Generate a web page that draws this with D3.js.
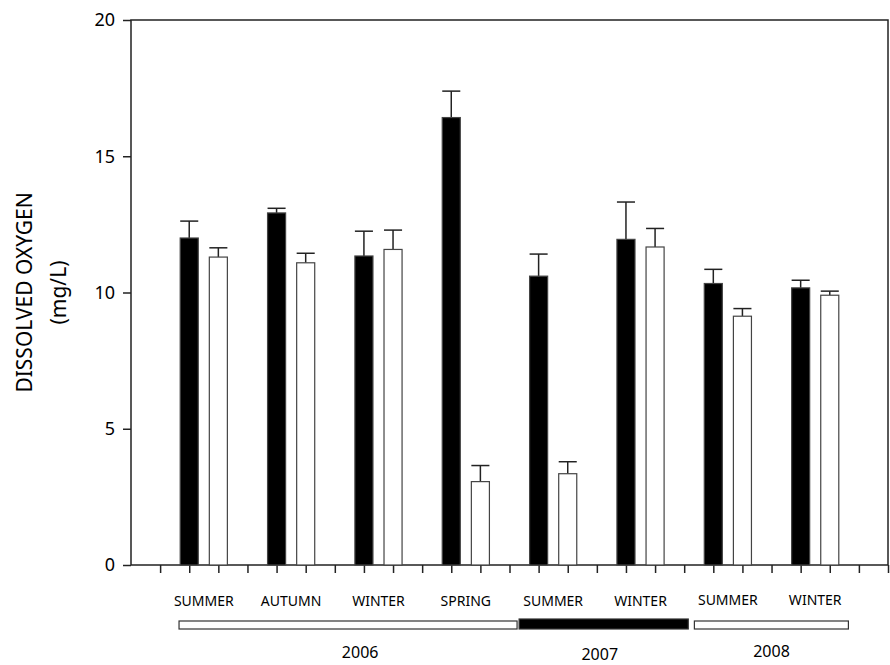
<!DOCTYPE html>
<html>
<head>
<meta charset="utf-8">
<script src="https://cdn.jsdelivr.net/npm/d3@7/dist/d3.min.js"></script>
<style>
  body { margin: 0; background: #fff; }
  svg { display: block; font-family: "Noto Sans", "Liberation Sans", Arial, sans-serif; }
</style>
</head>
<body>
<div id="chart"></div>
<script>
// season groups along the x axis
const seasons = ['SUMMER', 'AUTUMN', 'WINTER', 'SPRING', 'SUMMER', 'WINTER', 'SUMMER', 'WINTER'];
// black bars and white bars (mg/L) with their error
const blackVals = [12.0, 12.92, 11.34, 16.42, 10.6, 11.95, 10.33, 10.17];
const blackErr  = [0.62, 0.17, 0.91, 0.97, 0.81, 1.37, 0.52, 0.28];
const whiteVals = [11.3, 11.09, 11.58, 3.06, 3.35, 11.67, 9.13, 9.9];
const whiteErr  = [0.34, 0.35, 0.71, 0.59, 0.44, 0.68, 0.28, 0.15];
// year bands under the season labels (x units)
const years      = ['2006', '2007', '2008'];
const yearStart  = [1.65, 13.33, 19.35];
const yearEnd    = [13.26, 19.14, 24.64];
const yearFill   = ['#fff', '#000', '#fff'];
const yearLabelX = [7.87, 16.1, 22.0];
const yTicks = [0, 5, 10, 15, 20];

const width = 890, height = 665;
const margin = { top: 20, right: 2, bottom: 100, left: 131 };
const font = '"Noto Sans", "Liberation Sans", Arial, sans-serif';

const svg = d3.select('#chart').append('svg')
  .attr('width', width)
  .attr('height', height);

const x = d3.scaleLinear().domain([0, 26]).range([margin.left, width - margin.right]);
const y = d3.scaleLinear().domain([0, 20]).range([height - margin.bottom, margin.top]);
const barW = x(0.62) - x(0);

// frame
svg.append('rect')
  .attr('x', x(0)).attr('y', y(20))
  .attr('width', x(26) - x(0)).attr('height', y(0) - y(20))
  .attr('fill', 'none').attr('stroke', '#222').attr('stroke-width', 1.5);

// y axis
const yAxis = svg.append('g')
  .attr('transform', `translate(${x(0)},0)`)
  .call(d3.axisLeft(y).tickValues(yTicks).tickSize(8).tickPadding(8));
yAxis.select('.domain').remove();
yAxis.selectAll('line').attr('stroke', '#222').attr('stroke-width', 1.5);
yAxis.selectAll('text').attr('font-size', 18).attr('fill', '#000')
  .attr('font-family', font);

// x axis ticks
const xAxis = svg.append('g')
  .attr('transform', `translate(0,${y(0)})`)
  .call(d3.axisBottom(x).tickValues(d3.range(1, 27)).tickSize(8).tickFormat(''));
xAxis.select('.domain').remove();
xAxis.selectAll('line').attr('stroke', '#222').attr('stroke-width', 1.5);

const groups = seasons.map((s, i) => ({
  season: s, i,
  black: blackVals[i], blackE: blackErr[i],
  white: whiteVals[i], whiteE: whiteErr[i]
}));

const bars = [];
groups.forEach(g => {
  bars.push({ pos: 2 + 3 * g.i, v: g.black, e: g.blackE, fill: '#000' });
  bars.push({ pos: 3 + 3 * g.i, v: g.white, e: g.whiteE, fill: '#fff' });
});

// error bars
svg.selectAll('line.err')
  .data(bars)
  .join('line')
  .attr('class', 'err')
  .attr('x1', d => x(d.pos)).attr('x2', d => x(d.pos))
  .attr('y1', d => y(d.v)).attr('y2', d => y(d.v + d.e))
  .attr('stroke', '#222').attr('stroke-width', 1.5);

svg.selectAll('line.cap')
  .data(bars)
  .join('line')
  .attr('class', 'cap')
  .attr('x1', d => x(d.pos) - barW / 2).attr('x2', d => x(d.pos) + barW / 2)
  .attr('y1', d => y(d.v + d.e)).attr('y2', d => y(d.v + d.e))
  .attr('stroke', '#222').attr('stroke-width', 1.5);

svg.selectAll('rect.bar')
  .data(bars)
  .join('rect')
  .attr('class', 'bar')
  .attr('x', d => x(d.pos) - barW / 2)
  .attr('y', d => y(d.v))
  .attr('width', barW)
  .attr('height', d => y(0) - y(d.v))
  .attr('fill', d => d.fill)
  .attr('stroke', '#444')
  .attr('stroke-width', 1.2);

// season labels
svg.selectAll('text.season')
  .data(groups)
  .join('text')
  .attr('class', 'season')
  .attr('x', d => x(2.5 + 3 * d.i))
  .attr('y', (d, i) => i >= 6 ? 605 : 606)
  .attr('text-anchor', 'middle')
  .attr('font-size', 14)
  .text(d => d.season);

// year bands
svg.selectAll('rect.year')
  .data(years)
  .join('rect')
  .attr('class', 'year')
  .attr('x', (d, i) => x(yearStart[i]))
  .attr('y', (d, i) => i === 1 ? 619 : 621)
  .attr('width', (d, i) => x(yearEnd[i]) - x(yearStart[i]))
  .attr('height', (d, i) => i === 1 ? 10 : 8)
  .attr('fill', (d, i) => yearFill[i])
  .attr('stroke', '#333')
  .attr('stroke-width', 1.2);

svg.selectAll('text.year')
  .data(years)
  .join('text')
  .attr('class', 'year')
  .attr('x', (d, i) => x(yearLabelX[i]))
  .attr('y', (d, i) => [658, 660, 657][i])
  .attr('text-anchor', 'middle')
  .attr('font-size', 16)
  .text(d => d);

// y title
const midY = (y(0) + y(20)) / 2;
svg.append('text')
  .attr('transform', `translate(32,${midY}) rotate(-90)`)
  .attr('text-anchor', 'middle')
  .attr('font-size', 21)
  .text('DISSOLVED OXYGEN');
svg.append('text')
  .attr('transform', `translate(66,${midY}) rotate(-90)`)
  .attr('text-anchor', 'middle')
  .attr('font-size', 21)
  .text('(mg/L)');
</script>
</body>
</html>
